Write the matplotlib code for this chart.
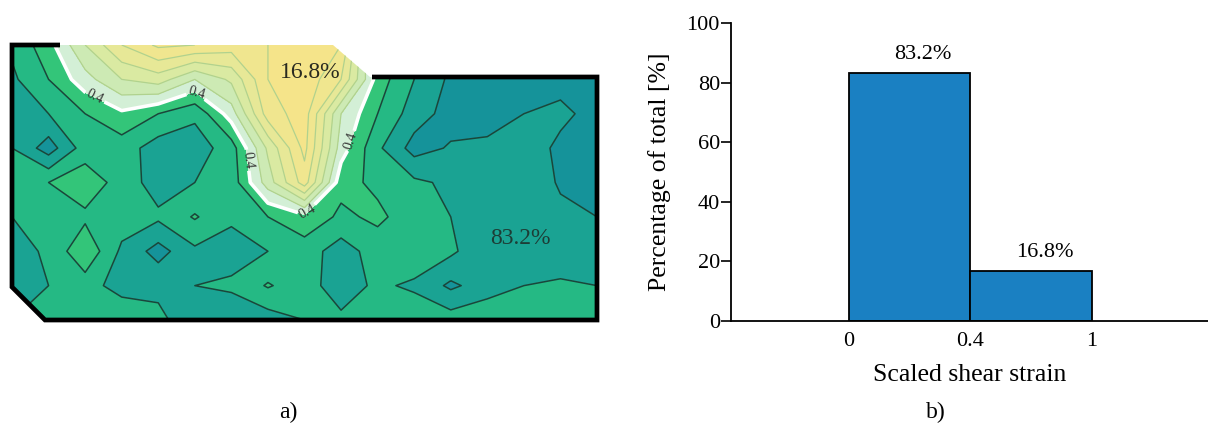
import numpy as np
import matplotlib
matplotlib.use("Agg")
import matplotlib.pyplot as plt
from matplotlib.patches import Polygon

plt.rcParams["font.family"] = ["Liberation Serif", "DejaVu Serif"]

# ── Data ───────────────────────────────────────────────────────────────────────
# scaled shear strain, rows top -> bottom, cols left -> right
STRAIN = np.array([
    [0.22, 0.36, 0.60, 0.80, 0.92, 0.90, 0.85, 0.90, 0.97, 0.90, 0.30, 0.12, 0.06, 0.06, 0.06, 0.06, 0.06],
    [0.18, 0.30, 0.46, 0.60, 0.65, 0.50, 0.62, 0.90, 0.97, 0.80, 0.35, 0.20, 0.08, 0.06, 0.06, 0.07, 0.08],
    [0.15, 0.20, 0.30, 0.38, 0.30, 0.22, 0.45, 0.85, 0.95, 0.50, 0.30, 0.15, 0.06, 0.06, 0.10, 0.12, 0.07],
    [0.20, 0.05, 0.25, 0.25, 0.15, 0.15, 0.25, 0.62, 0.93, 0.45, 0.22, 0.06, 0.11, 0.12, 0.15, 0.08, 0.06],
    [0.22, 0.30, 0.36, 0.26, 0.15, 0.20, 0.24, 0.55, 0.85, 0.33, 0.28, 0.22, 0.18, 0.18, 0.16, 0.09, 0.07],
    [0.20, 0.22, 0.28, 0.25, 0.22, 0.31, 0.22, 0.30, 0.37, 0.28, 0.32, 0.25, 0.20, 0.15, 0.12, 0.12, 0.10],
    [0.15, 0.22, 0.38, 0.18, 0.06, 0.18, 0.15, 0.20, 0.25, 0.15, 0.25, 0.28, 0.22, 0.12, 0.14, 0.12, 0.15],
    [0.12, 0.20, 0.25, 0.15, 0.18, 0.20, 0.22, 0.31, 0.24, 0.15, 0.22, 0.18, 0.08, 0.15, 0.20, 0.22, 0.20],
    [0.20, 0.22, 0.28, 0.30, 0.22, 0.15, 0.12, 0.15, 0.20, 0.22, 0.25, 0.28, 0.25, 0.28, 0.30, 0.26, 0.30],
])
SPEC_W, SPEC_H = 585, 275          # specimen extent (plot units)
THRESHOLD = 0.4
AREA_LOW, AREA_HIGH = "83.2%", "16.8%"

BIN_LABELS = ["0", "0.4", "1"]
PERCENT = [83.2, 16.8]

# ── Style ──────────────────────────────────────────────────────────────────────
LEVELS = [0.0, 0.1, 0.2, 0.3, 0.4, 0.5, 0.6, 0.7, 0.8, 0.9, 1.0]
BAND_COLORS = ["#15939a", "#1aa393", "#25b984", "#33c579",
               "#d3efd6", "#cdeab4", "#daeaa2", "#e7e897", "#f0e68f", "#f5e48a"]
LINE_DARK = "#1a463b"
LINE_PALE = "#b0d28e"
BAR_COLOR = "#1a80c2"
FS = 17

# specimen outline (plot units, y up)
DOMAIN = [(0, 275), (321, 275), (358, 243), (585, 243), (585, 0), (33, 0), (0, 33)]
BORDER = [(48, 275), (0, 275), (0, 33), (33, 0), (585, 0), (585, 243), (360, 243)]

W, H = 1208, 425
fig = plt.figure(figsize=(W / 100, H / 100), dpi=100)

# ── a) strain map ──────────────────────────────────────────────────────────────
ax1 = fig.add_axes([12 / W, 105 / H, 585 / W, 275 / H])
ny, nx = STRAIN.shape
X, Y = np.meshgrid(np.linspace(0, SPEC_W, nx), np.linspace(SPEC_H, 0, ny))

clip = Polygon(DOMAIN, closed=True, facecolor="none", edgecolor="none",
               transform=ax1.transData)
ax1.add_patch(clip)

cf = ax1.contourf(X, Y, STRAIN, levels=LEVELS, colors=BAND_COLORS)
c_low = ax1.contour(X, Y, STRAIN, levels=[0.1, 0.2, 0.3],
                    colors=LINE_DARK, linewidths=1.1)
c_high = ax1.contour(X, Y, STRAIN, levels=[0.5, 0.6, 0.7, 0.8, 0.9],
                     colors=LINE_PALE, linewidths=0.9)
c_thr = ax1.contour(X, Y, STRAIN, levels=[THRESHOLD],
                    colors="white", linewidths=2.6)
for cs in (cf, c_low, c_high, c_thr):
    cs.set_clip_path(clip)

ax1.clabel(c_thr, fmt="%.1f", fontsize=10, colors="#333333", inline=True,
           inline_spacing=2,
           manual=[(83, 223), (188, 232), (238, 160), (293, 110), (336, 180)])

xs, ys = zip(*BORDER)
ax1.plot(xs, ys, color="black", lw=3.4, solid_joinstyle="miter",
         solid_capstyle="butt", clip_on=False)

ax1.text(298, 248, AREA_HIGH, ha="center", va="center", fontsize=FS,
         color="#2a2a20")
ax1.text(508, 82, AREA_LOW, ha="center", va="center", fontsize=FS,
         color="#1d3d36")
ax1.set_xlim(0, SPEC_W)
ax1.set_ylim(0, SPEC_H)
ax1.axis("off")

# ── b) histogram ───────────────────────────────────────────────────────────────
ax2 = fig.add_axes([731 / W, 104 / H, (W - 731) / W, 298 / H])
pos = np.arange(len(PERCENT))
ax2.bar(pos, PERCENT, width=1.0, align="edge", color=BAR_COLOR,
        edgecolor="black", linewidth=1.3, zorder=2)
for p, v in zip(pos, PERCENT):
    ax2.text(p + 0.61, v + 3, f"{v}%", ha="center", va="bottom", fontsize=FS - 1)

ax2.set_xlim(-0.971, 2.955)
ax2.set_ylim(0, 100)
ax2.set_xticks(np.arange(len(BIN_LABELS)))
ax2.set_xticklabels(BIN_LABELS)
ax2.set_yticks(np.arange(0, 101, 20))
ax2.tick_params(axis="x", length=0, pad=8, labelsize=FS - 1)
ax2.tick_params(axis="y", direction="out", length=7, width=1.2, pad=1,
                labelsize=FS - 1)
for side in ("top", "right"):
    ax2.spines[side].set_visible(False)
for side in ("left", "bottom"):
    ax2.spines[side].set_linewidth(1.3)

ax2.set_xlabel("Scaled shear strain", fontsize=FS + 1.5)
ax2.xaxis.set_label_coords(0.5, -0.145)
ax2.set_ylabel("Percentage of total [%]", fontsize=FS + 1.5)
ax2.yaxis.set_label_coords(-0.125, 0.5)

fig.text(288 / W, 1 - 412 / H, "a)", ha="center", va="center", fontsize=FS)
fig.text(936 / W, 1 - 412 / H, "b)", ha="center", va="center", fontsize=FS)

fig.savefig("out.png", dpi=100)
